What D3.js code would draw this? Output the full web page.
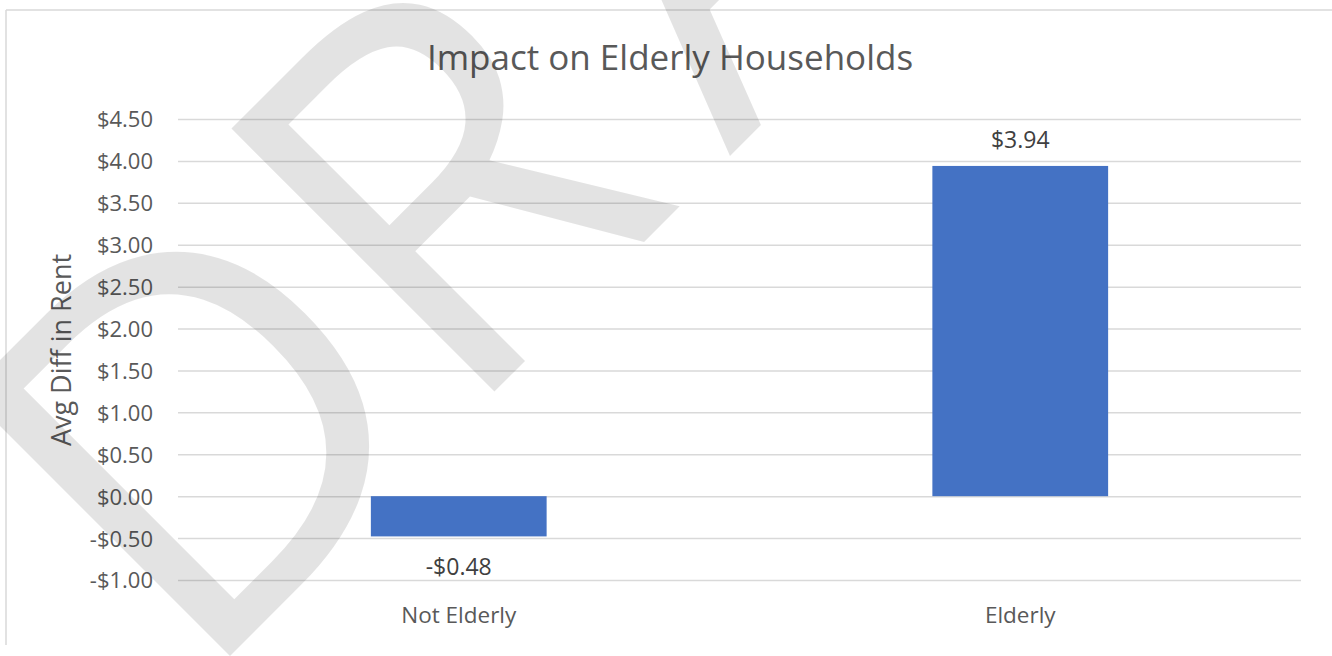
<!DOCTYPE html>
<html>
<head>
<meta charset="utf-8">
<script src="https://cdn.jsdelivr.net/npm/d3@7"></script>
<style>
  body { margin: 0; background: #fff; }
  svg { display: block; }
  svg text { font-family: "Open Sans", sans-serif; }
</style>
</head>
<body>
<div id="vis"></div>
<script>
const FRAME_WIDTH = 1332;
const FRAME_HEIGHT = 656;
const MARGINS = {top: 119, bottom: 76, left: 178, right: 31};

// chart data
const CATEGORIES = ["Not Elderly", "Elderly"];
const VALUES = [-0.48, 3.94];
const Y_TICKS = [-1.00, -0.50, 0.00, 0.50, 1.00, 1.50, 2.00, 2.50, 3.00, 3.50, 4.00, 4.50];
const TITLE = "Impact on Elderly Households";
const Y_TITLE = "Avg Diff in Rent";
const WATERMARK = "DRAFT";

const TEXT_COLOR = "#595959";
const GRID_COLOR = "#d9d9d9";
const BAR_COLOR = "#4472c4";

const FRAME = d3.select("#vis")
  .append("svg")
    .attr("width", FRAME_WIDTH)
    .attr("height", FRAME_HEIGHT);

function money(v) {
  const s = "$" + Math.abs(v).toFixed(2);
  return v < 0 ? "-" + s : s;
}

const X_SCALE = d3.scaleBand()
  .domain(CATEGORIES)
  .range([MARGINS.left, FRAME_WIDTH - MARGINS.right])
  .paddingInner(0.687)
  .paddingOuter(0.3435);

const Y_SCALE = d3.scaleLinear()
  .domain([d3.min(Y_TICKS), d3.max(Y_TICKS)])
  .range([FRAME_HEIGHT - MARGINS.bottom, MARGINS.top]);

// chart area border (top + left only visible)
FRAME.append("line")
  .attr("x1", 6).attr("x2", FRAME_WIDTH).attr("y1", 10).attr("y2", 10)
  .attr("stroke", GRID_COLOR).attr("stroke-width", 1.5);
FRAME.append("line")
  .attr("x1", 6).attr("x2", 6).attr("y1", 10).attr("y2", 645)
  .attr("stroke", GRID_COLOR).attr("stroke-width", 1.5);

// y axis with gridlines
const yAxis = FRAME.append("g")
  .attr("transform", `translate(${MARGINS.left},0)`)
  .call(d3.axisLeft(Y_SCALE)
    .tickValues(Y_TICKS)
    .tickFormat(money)
    .tickSizeInner(-(FRAME_WIDTH - MARGINS.left - MARGINS.right))
    .tickSizeOuter(0)
    .tickPadding(25))
  .attr("font-family", null)
  .attr("font-size", null);
yAxis.select(".domain").remove();
yAxis.selectAll("line").attr("stroke", GRID_COLOR).attr("stroke-width", 1.5);
yAxis.selectAll("text")
  .attr("fill", TEXT_COLOR)
  .attr("font-size", 22)
  .attr("dy", "0.36em");

// x axis labels
const xAxis = FRAME.append("g")
  .attr("transform", `translate(0,${FRAME_HEIGHT - MARGINS.bottom})`)
  .call(d3.axisBottom(X_SCALE).tickSize(0).tickPadding(27))
  .attr("font-family", null)
  .attr("font-size", null);
xAxis.select(".domain").remove();
xAxis.selectAll("text")
  .attr("fill", TEXT_COLOR)
  .attr("font-size", 22.5);

// title
FRAME.append("text")
  .attr("x", 670)
  .attr("y", 70)
  .attr("text-anchor", "middle")
  .attr("font-size", 35)
  .attr("fill", TEXT_COLOR)
  .text(TITLE);

// y axis title
FRAME.append("text")
  .attr("transform", "translate(71,350) rotate(-90)")
  .attr("text-anchor", "middle")
  .attr("font-size", 27)
  .attr("fill", TEXT_COLOR)
  .text(Y_TITLE);

// watermark
FRAME.append("text")
  .attr("transform", "translate(194,692) rotate(-45)")
  .attr("x", "0 374 758 1088 1375")
  .attr("font-size", 521)
  .attr("fill", "#000")
  .attr("fill-opacity", 0.11)
  .text(WATERMARK);

// bars
FRAME.selectAll(".bar")
  .data(VALUES)
  .enter()
  .append("rect")
    .attr("class", "bar")
    .attr("x", (d, i) => X_SCALE(CATEGORIES[i]))
    .attr("width", X_SCALE.bandwidth())
    .attr("y", (d) => Y_SCALE(Math.max(0, d)))
    .attr("height", (d) => Math.abs(Y_SCALE(d) - Y_SCALE(0)))
    .attr("fill", BAR_COLOR);

// data labels
FRAME.selectAll(".label")
  .data(VALUES)
  .enter()
  .append("text")
    .attr("class", "label")
    .attr("x", (d, i) => X_SCALE(CATEGORIES[i]) + X_SCALE.bandwidth() / 2)
    .attr("y", (d) => d >= 0 ? Y_SCALE(d) - 18 : Y_SCALE(d) + 39)
    .attr("text-anchor", "middle")
    .attr("font-size", 23)
    .attr("fill", "#404040")
    .text(money);
</script>
</body>
</html>
